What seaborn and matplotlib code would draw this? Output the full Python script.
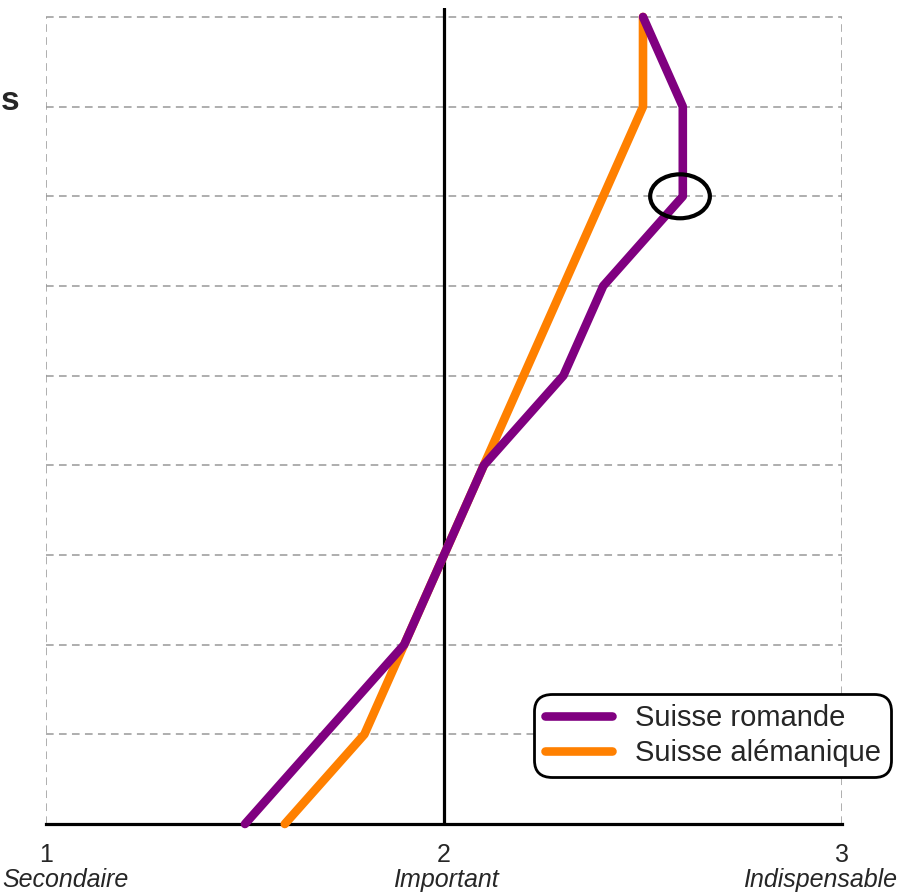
import matplotlib
matplotlib.use("Agg")
import matplotlib.pyplot as plt
from matplotlib.patches import Ellipse
import seaborn as sns
import pandas as pd

# scores per level (level 0 = bottom row, level 9 = top row)
levels = [0, 1, 2, 3, 4, 5, 6, 7, 8, 9]
romande = [1.5, 1.7, 1.9, 2.0, 2.1, 2.3, 2.4, 2.6, 2.6, 2.5]
alemanique = [1.6, 1.8, 1.9, 2.0, 2.1, 2.2, 2.3, 2.4, 2.5, 2.5]
series_names = ["Suisse romande", "Suisse alémanique"]
series_colors = ["#800080", "#FF8000"]
tick_values = [1, 2, 3]
tick_words = ["Secondaire", "Important", "Indispensable"]

df = pd.DataFrame({
    "level": levels * 2,
    "score": romande + alemanique,
    "region": [series_names[0]] * len(levels) + [series_names[1]] * len(levels),
})

sns.set_style("white")
plt.rcParams["font.family"] = ["Liberation Sans", "DejaVu Sans"]

fig = plt.figure(figsize=(8.97, 8.94), dpi=100)
ax = fig.add_axes([46 / 897, 1 - 824 / 894, (842 - 46) / 897, (824 - 8) / 894])

# dashed grid: horizontal rows and the two side borders
ax.hlines(levels[1:], 1, 3, colors="#999999", linestyles=(0, (5, 3.5)), linewidth=1.1, zorder=1)
ax.vlines([1, 3], 0, 9, colors="#999999", linestyles=(0, (5, 3.5)), linewidth=1.1, zorder=1)
ax.axvline(2, color="black", linewidth=2.3, zorder=2)

# draw orange first so purple sits on top
for name, color in list(zip(series_names, series_colors))[::-1]:
    sub = df[df["region"] == name]
    sns.lineplot(data=sub, x="score", y="level", orient="y", sort=False, color=color,
                 linewidth=6.2, ax=ax, solid_capstyle="round", clip_on=False, zorder=3)

ax.add_patch(Ellipse((2.593, 7.0), 0.15, 0.49, fill=False, edgecolor="black", linewidth=3, zorder=4))

ax.set_xlim(1, 3)
ax.set_ylim(0, 9.1)
ax.set_xticks(tick_values)
ax.set_xticklabels([str(v) for v in tick_values], fontsize=18)
ax.tick_params(axis="x", length=0, pad=14)
ax.set_yticks([])
ax.set_xlabel("")
ax.set_ylabel("")
for side in ["top", "right", "left"]:
    ax.spines[side].set_visible(False)
ax.spines["bottom"].set_linewidth(2.3)
ax.spines["bottom"].set_color("black")

for xv, word in zip([1.048, 2.006, 2.945], tick_words):
    ax.text(xv, -0.62, word, ha="center", va="center", fontsize=18, style="italic",
            transform=ax.transData, clip_on=False)

fig.text(0.001, 1 - 102 / 894, "s", fontsize=24, fontweight="bold", ha="left", va="center")

handles = [plt.Line2D([], [], color=c, linewidth=6.2, solid_capstyle="round") for c in series_colors]
leg = ax.legend(handles, series_names, loc="upper right", bbox_to_anchor=(884 / 897, 1 - 701 / 894),
                bbox_transform=fig.transFigure, fontsize=21, handlelength=2.3, handletextpad=0.8,
                labelspacing=0.25, borderpad=0.1, borderaxespad=0, fancybox=True, framealpha=1,
                edgecolor="black")
leg.get_frame().set_linewidth(2)
leg.get_frame().set_boxstyle("round", pad=0.25, rounding_size=0.6)

fig.savefig("out.png", dpi=100)
